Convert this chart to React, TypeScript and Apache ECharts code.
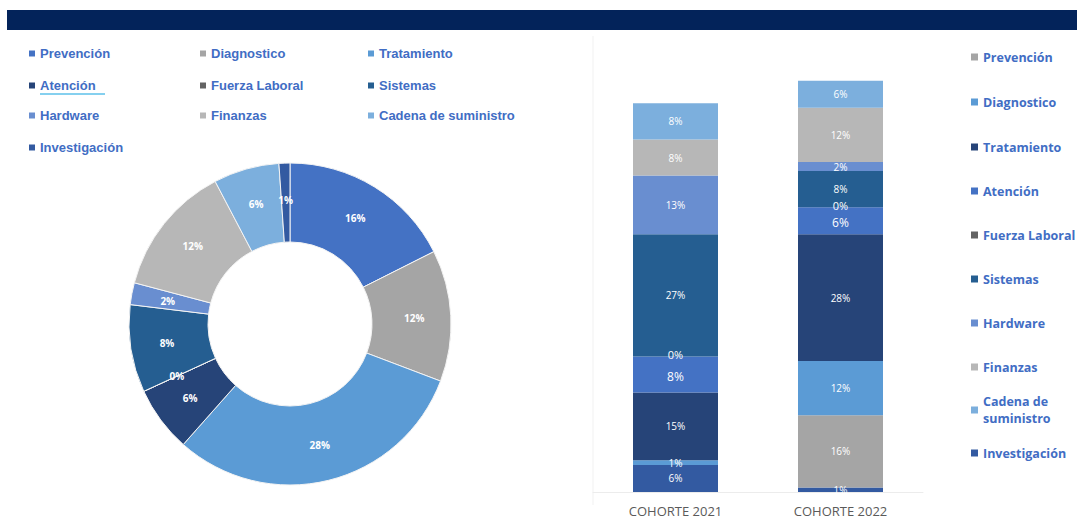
import React, { useEffect, useRef } from "react";
import * as echarts from "echarts";

// ---- data ----
const categories = [
  "Prevención",
  "Diagnostico",
  "Tratamiento",
  "Atención",
  "Fuerza Laboral",
  "Sistemas",
  "Hardware",
  "Finanzas",
  "Cadena de suministro",
  "Investigación",
];
const donutValues = [16, 12, 28, 6, 0, 8, 2, 12, 6, 1];
const donutColors = ["#4472C4", "#A5A5A5", "#5B9BD5", "#264478", "#636363", "#255E91", "#698ED0", "#B7B7B7", "#7CAFDD", "#335AA1"];

const cohorts = ["COHORTE 2021", "COHORTE 2022"];
const stackOrder = [
  "Investigación",
  "Prevención",
  "Diagnostico",
  "Tratamiento",
  "Atención",
  "Fuerza Laboral",
  "Sistemas",
  "Hardware",
  "Finanzas",
  "Cadena de suministro",
];
const cohort2021 = [6, null, 1, 15, 8, 0, 27, 13, 8, 8];
const cohort2022 = [1, 16, 12, 28, 6, 0, 8, 2, 12, 6];
// bar colours, in the order of `categories`
const barColors = ["#A5A5A5", "#5B9BD5", "#264478", "#4472C4", "#636363", "#255E91", "#698ED0", "#B7B7B7", "#7CAFDD", "#335AA1"];

const leftLegendX = [29, 200, 368];
const leftLegendY = [55, 87, 117, 149];
const rightLegendY = [57, 102, 147, 191, 235, 279, 323, 367, 410, 453];

const LEGEND_TEXT = "#416DC4";

export default function App() {
  const ref = useRef<HTMLDivElement>(null);

  useEffect(() => {
    if (!ref.current) return;
    const chart = echarts.init(ref.current, null, { renderer: "svg" });

    const legends: any[] = [];
    categories.forEach((name, i) => {
      const col = i % 3;
      const row = Math.floor(i / 3);
      legends.push({
        left: leftLegendX[col],
        top: leftLegendY[row] - 8,
        padding: 0,
        itemWidth: 6,
        itemHeight: 6,
        icon: "rect",
        selectedMode: false,
        data: [{ name, itemStyle: { color: donutColors[i] } }],
        textStyle: {
          color: LEGEND_TEXT,
          fontSize: 13,
          fontWeight: "bold",
          fontFamily: "Liberation Sans, Arial, sans-serif",
        },
      });
    });
    categories.forEach((name, i) => {
      const two = name === "Cadena de suministro";
      legends.push({
        left: 971,
        top: two ? rightLegendY[i] - 25.5 : rightLegendY[i] - 8.5,
        padding: 0,
        itemWidth: 7,
        itemHeight: 7,
        icon: "rect",
        selectedMode: false,
        data: [{ name, itemStyle: { color: barColors[i] } }],
        formatter: (n: string) => (n === "Cadena de suministro" ? "Cadena de\nsuministro" : n),
        textStyle: {
          color: LEGEND_TEXT,
          fontSize: 12.5,
          fontWeight: "bold",
          lineHeight: 17,
          padding: two ? [17, 0, 0, 0] : 0,
          fontFamily: "Open Sans, sans-serif",
        },
      });
    });

    const barSeries = stackOrder.map((name) => {
      const ci = categories.indexOf(name);
      const idx = stackOrder.indexOf(name);
      const isAt = name === "Atención";
      const isFl = name === "Fuerza Laboral";
      return {
        name,
        type: "bar",
        stack: "total",
        xAxisIndex: 0,
        yAxisIndex: 0,
        barWidth: 85,
        data: [cohort2021[idx], cohort2022[idx]],
        itemStyle: { color: barColors[ci] },
        label: {
          show: true,
          position: "inside",
          color: "#ffffff",
          fontSize: isAt ? 12 : isFl ? 11 : 10,
          offset: isAt ? [0, 2] : isFl ? [0, -2] : [0, 0],
          fontFamily: "Open Sans, sans-serif",
          formatter: (p: any) => (p.value == null ? "" : p.value + "%"),
        },
      };
    });

    chart.setOption({
      animation: false,
      backgroundColor: "#ffffff",
      legend: legends,
      grid: { left: 593, right: 154, top: 40, bottom: 27 },
      xAxis: {
        type: "category",
        data: cohorts,
        axisLine: { show: true, lineStyle: { color: "#ececec", width: 1 } },
        axisTick: { show: false },
        axisLabel: {
          color: "#5a5a5a",
          fontSize: 13,
          lineHeight: 13,
          margin: 12,
          fontFamily: "Open Sans, sans-serif",
        },
      },
      yAxis: {
        type: "value",
        min: 0,
        max: 100,
        show: false,
      },
      series: [
        {
          name: "Donut",
          type: "pie",
          center: [290, 324],
          radius: [82, 161],
          startAngle: 90,
          clockwise: true,
          avoidLabelOverlap: false,
          data: categories.map((name, i) => ({
            name,
            value: donutValues[i],
            itemStyle: { color: donutColors[i] },
          })),
          itemStyle: { borderColor: "#f4f4f4", borderWidth: 1 },
          label: {
            show: true,
            position: "inside",
            color: "#ffffff",
            fontSize: 10,
            fontWeight: "bold",
            fontFamily: "Open Sans, sans-serif",
            formatter: "{c}%",
          },
          labelLine: { show: false },
        },
        ...barSeries,
      ],
      graphic: [
        {
          type: "rect",
          shape: { x: 7, y: 10, width: 1070, height: 20 },
          style: { fill: "#03235A" },
          silent: true,
        },
        {
          type: "line",
          shape: { x1: 593, y1: 36, x2: 593, y2: 505 },
          style: { stroke: "#f1f1f1", lineWidth: 1 },
          silent: true,
        },
        {
          type: "line",
          shape: { x1: 40, y1: 94, x2: 105, y2: 94 },
          style: { stroke: "#5cc0ea", lineWidth: 1.5 },
          silent: true,
        },
      ],
    });

    return () => chart.dispose();
  }, []);

  return (
    <div
      ref={ref}
      style={{ position: "fixed", left: 0, top: 0, width: 1077, height: 519 }}
    />
  );
}
